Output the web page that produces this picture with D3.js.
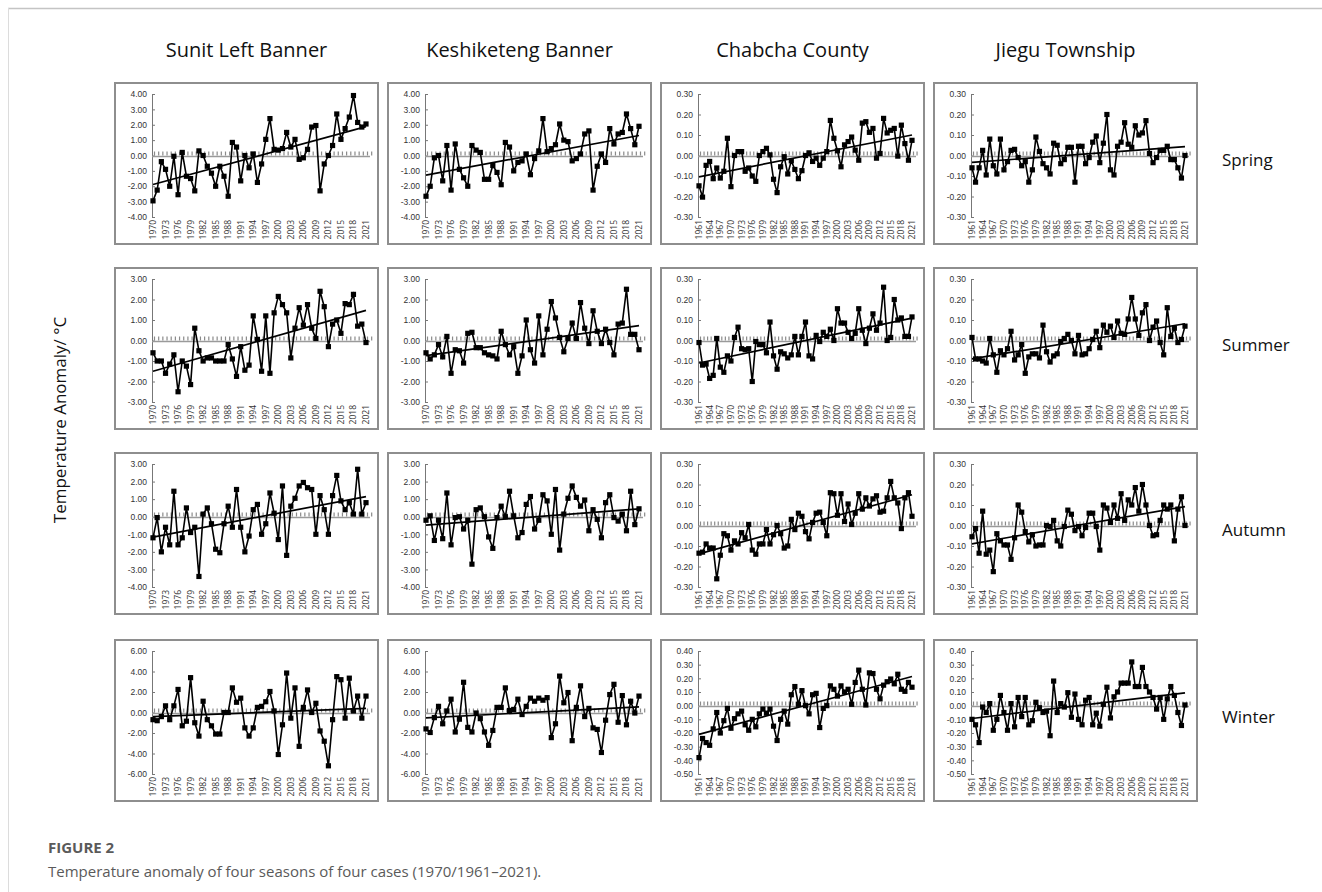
<!DOCTYPE html>
<html>
<head>
<meta charset="utf-8">
<script src="https://cdn.jsdelivr.net/npm/d3@7"></script>
<style>
  body { margin: 0; background: #fff; }
  svg text { font-family: "Open Sans", sans-serif; }
  .tick text { font-family: "Liberation Sans", Arial, sans-serif; }
</style>
</head>
<body>
<div id="chart"></div>
<script>
// Cases (columns) and seasons (rows)
const counties = ["Sunit Left Banner", "Keshiketeng Banner", "Chabcha County", "Jiegu Township"];
const seasons = ["Spring", "Summer", "Autumn", "Winter"];
const firstYears = [1970, 1970, 1961, 1961];
const lastYear = 2021;

// Temperature anomaly
const sunitSpring = [-2.95,-2.25,-0.4,-0.9,-2.0,-0.05,-2.55,0.2,-1.35,-1.5,-2.3,0.3,0.0,-0.7,-1.15,-2.0,-0.7,-1.35,-2.65,0.85,0.55,-1.65,0.0,-0.8,0.1,-1.75,-0.55,1.05,2.4,0.4,0.35,0.45,1.5,0.55,1.05,-0.25,-0.15,0.4,1.85,1.95,-2.3,-0.55,0.0,0.65,2.7,1.05,1.75,2.5,3.9,2.15,1.85,2.05];
const keshiSpring = [-2.65,-2.0,-0.15,0.0,-1.65,0.65,-2.25,0.75,-0.9,-1.45,-2.0,0.65,0.35,0.2,-1.55,-1.55,-0.65,-1.1,-1.9,0.85,0.55,-1.0,-0.45,-0.35,0.1,-1.25,-0.2,0.3,2.4,0.25,0.45,0.7,2.05,1.0,0.9,-0.35,-0.2,0.1,1.4,1.6,-2.25,-0.7,0.1,-0.45,1.75,0.75,1.4,1.5,2.7,1.75,0.7,1.9];
const chabchaSpring = [-0.148,-0.203,-0.048,-0.029,-0.113,-0.061,-0.11,-0.077,0.084,-0.152,0.0,0.019,0.019,-0.077,-0.061,-0.10,-0.126,0.0,0.019,0.035,0.003,-0.116,-0.181,-0.055,-0.006,-0.09,-0.026,-0.068,-0.113,-0.074,0.0,0.013,-0.029,-0.013,-0.048,-0.013,0.019,0.171,0.084,0.023,-0.055,0.052,0.068,0.09,0.026,-0.023,0.158,0.165,0.113,0.132,-0.013,0.01,0.181,0.11,0.123,0.132,-0.003,0.148,0.058,-0.023,0.074];
const jieguSpring = [-0.06,-0.13,-0.06,0.025,-0.095,0.08,-0.05,-0.09,0.08,-0.07,-0.03,0.025,0.03,-0.01,-0.05,-0.03,-0.13,-0.07,0.09,0.02,-0.04,-0.06,-0.09,0.06,0.05,-0.04,-0.02,0.04,0.04,-0.13,0.045,0.045,-0.04,-0.01,0.065,0.095,-0.035,0.06,0.20,-0.07,-0.095,0.045,0.065,0.16,0.055,0.04,0.145,0.10,0.11,0.17,0.01,-0.035,-0.01,0.025,0.025,0.045,-0.02,-0.02,-0.06,-0.11,0.00];

const sunitSummer = [-0.6,-1.0,-1.0,-1.6,-1.15,-0.7,-2.5,-1.0,-1.25,-2.15,0.6,-0.5,-1.0,-0.85,-0.85,-1.0,-1.0,-1.0,-0.2,-0.9,-1.75,-0.3,-1.45,-1.2,1.2,0.05,-1.5,1.2,-1.6,1.35,2.15,1.75,1.35,-0.85,0.6,1.6,0.75,1.75,0.6,0.1,2.4,1.65,-0.3,0.8,1.0,0.35,1.8,1.75,2.25,0.7,0.8,-0.1];
const keshiSummer = [-0.6,-0.9,-0.7,-0.2,-0.8,0.2,-1.6,-0.45,-0.5,-1.1,0.35,0.4,-0.35,-0.35,-0.6,-0.7,-0.75,-0.9,0.45,-0.2,-0.7,-0.3,-1.6,-0.75,1.0,-0.45,-1.1,1.2,-0.7,0.55,1.9,1.1,0.15,-0.55,0.1,0.85,0.1,1.85,0.6,-0.15,1.45,0.45,-0.15,0.55,-0.1,-0.7,0.8,0.85,2.5,0.3,0.3,-0.45];
const chabchaSummer = [-0.01,-0.12,-0.115,-0.185,-0.17,0.01,-0.13,-0.155,-0.075,-0.10,0.015,0.065,-0.04,-0.045,-0.04,-0.20,-0.005,-0.02,-0.02,-0.06,0.09,-0.075,-0.14,-0.055,-0.065,-0.085,-0.07,0.02,-0.07,0.02,0.09,-0.075,-0.09,0.025,-0.005,0.04,0.02,0.055,0.0,0.155,0.085,0.085,0.04,0.01,0.035,0.155,0.05,-0.015,0.06,0.13,0.05,0.085,0.26,0.0,0.015,0.20,0.10,0.11,0.02,0.02,0.115];
const jieguSummer = [0.015,-0.09,-0.09,-0.10,-0.11,0.01,-0.07,-0.155,-0.05,-0.07,-0.04,0.045,-0.095,-0.07,-0.02,-0.16,-0.08,-0.065,-0.065,-0.085,0.075,-0.055,-0.105,-0.075,-0.065,-0.005,0.01,0.03,0.0,-0.065,0.025,-0.07,-0.065,-0.04,0.005,0.045,-0.035,0.075,0.04,0.07,0.015,0.095,0.035,0.03,0.105,0.21,0.105,0.025,0.135,0.175,0.0,0.065,0.095,-0.01,-0.07,0.16,0.02,0.06,-0.01,0.005,0.07];

const sunitAutumn = [-1.2,-0.05,-2.0,-0.6,-1.6,1.45,-1.6,-1.2,0.5,-0.9,-0.6,-3.4,0.15,0.5,-0.4,-1.85,-2.05,-0.4,0.6,-0.6,1.55,-0.6,-2.0,-1.1,0.4,0.7,-1.0,-0.4,1.35,0.2,-1.3,1.75,-2.2,0.6,1.05,1.75,1.95,1.65,1.55,-1.0,1.2,0.4,-1.0,1.2,2.35,0.9,0.4,0.8,0.15,2.7,0.15,0.8];
const keshiAutumn = [-0.2,0.05,-1.35,-0.2,-1.25,1.35,-1.6,-0.05,0.0,-0.7,-0.2,-2.7,0.4,0.5,0.0,-1.15,-1.8,-0.05,0.6,0.0,1.45,0.05,-1.2,-0.9,0.7,1.15,-0.7,-0.2,1.25,0.9,-1.0,1.55,-1.9,0.15,1.05,1.75,1.1,0.6,0.95,-0.8,0.4,-0.15,-1.2,0.8,1.25,-0.05,-0.25,0.15,-0.8,1.45,-0.45,0.45];
const chabchaAutumn = [-0.135,-0.13,-0.09,-0.11,-0.11,-0.26,-0.145,-0.04,-0.05,-0.12,-0.075,-0.09,-0.035,-0.06,0.005,-0.12,-0.14,-0.09,-0.09,-0.02,-0.09,-0.045,0.0,-0.04,-0.11,-0.10,0.03,-0.02,0.06,0.045,-0.03,-0.065,0.015,0.06,0.065,0.015,-0.05,0.16,0.155,0.05,0.155,0.02,0.105,0.005,0.06,0.155,0.08,0.135,0.095,0.13,0.145,0.065,0.07,0.135,0.215,0.135,0.11,-0.015,0.135,0.16,0.045];
const jieguAutumn = [-0.055,-0.015,-0.135,0.07,-0.14,-0.12,-0.225,-0.04,-0.075,-0.095,-0.095,-0.165,-0.06,0.10,0.065,-0.03,-0.08,-0.045,-0.10,-0.095,-0.095,0.0,-0.005,0.025,-0.075,-0.10,-0.005,0.075,0.055,-0.025,-0.005,-0.05,-0.01,0.06,0.06,-0.005,-0.12,0.10,0.085,0.015,0.10,0.035,0.155,0.025,0.125,0.10,0.185,0.07,0.20,0.10,0.0,-0.05,-0.045,0.025,0.10,0.08,0.10,-0.075,0.08,0.14,0.0];

const sunitWinter = [-0.7,-0.8,-0.4,0.65,-0.7,0.65,2.25,-1.3,-0.85,3.4,-1.0,-2.3,1.1,-0.7,-1.3,-2.1,-2.1,0.0,0.0,2.4,1.0,1.4,-1.5,-2.3,-1.5,0.5,0.6,1.05,2.05,0.15,-4.1,-1.2,3.85,-0.55,2.4,-3.3,0.5,2.2,0.0,0.9,-1.8,-2.8,-5.2,-0.7,3.5,3.2,-0.55,3.35,0.15,1.6,-0.55,1.6];
const keshiWinter = [-1.6,-1.95,-0.5,0.6,-1.1,0.15,1.3,-1.9,-0.65,2.95,-1.45,-1.9,-0.05,-0.6,-1.9,-3.2,-1.75,0.5,0.5,2.4,0.2,0.3,1.3,-0.2,0.6,1.4,1.1,1.4,1.2,1.45,-2.45,-1.1,3.55,0.95,1.95,-2.75,0.5,2.6,-0.4,0.4,-1.5,-1.65,-3.9,-0.75,1.75,2.75,-0.95,1.65,-1.2,1.1,-0.05,1.6];
const chabchaWinter = [-0.38,-0.24,-0.27,-0.29,-0.17,-0.05,-0.20,-0.11,-0.02,-0.165,-0.095,-0.06,-0.04,-0.14,-0.18,-0.10,-0.155,-0.06,-0.025,-0.055,-0.025,-0.15,-0.255,-0.10,-0.04,-0.135,0.08,0.14,0.01,0.11,0.0,-0.06,0.08,0.09,-0.16,-0.02,0.0,0.145,0.12,0.07,0.145,0.10,0.12,0.01,0.17,0.26,0.12,0.005,0.24,0.235,0.12,0.05,0.15,0.175,0.195,0.16,0.23,0.12,0.105,0.17,0.135];
const jieguWinter = [-0.10,-0.14,-0.27,-0.01,-0.05,0.015,-0.18,-0.10,0.075,-0.05,-0.18,0.015,-0.155,0.06,-0.08,0.06,-0.14,-0.11,0.025,-0.015,-0.05,-0.04,-0.22,0.18,-0.05,0.015,-0.01,0.095,-0.085,0.085,-0.10,-0.14,0.04,0.06,-0.14,-0.055,-0.15,0.01,0.135,-0.09,0.065,0.10,0.165,0.165,0.165,0.32,0.14,0.14,0.28,0.14,0.10,0.06,-0.025,0.06,-0.10,0.05,0.14,0.075,-0.05,-0.145,0.005];

// y axis ranges: [min, max, step] per season, for the two 1970 cases and the two 1961 cases
const yRangesWide = [[-4, 4, 1], [-3, 3, 1], [-4, 3, 1], [-6, 6, 2]];
const yRangesNarrow = [[-0.3, 0.3, 0.1], [-0.3, 0.3, 0.1], [-0.3, 0.3, 0.1], [-0.5, 0.4, 0.1]];

const grid = [
  [sunitSpring, keshiSpring, chabchaSpring, jieguSpring],
  [sunitSummer, keshiSummer, chabchaSummer, jieguSummer],
  [sunitAutumn, keshiAutumn, chabchaAutumn, jieguAutumn],
  [sunitWinter, keshiWinter, chabchaWinter, jieguWinter]
];

// Layout
const width = 1322, height = 892;
const colX = [115, 388, 661, 934];
const rowY = [83, 268, 453, 640];
const panelW = 263, panelH = 161;

const fmt = d3.formatLocale({decimal: ".", thousands: ",", grouping: [3], currency: ["", ""], minus: "-"}).format(".2f");

const svg = d3.select("#chart").append("svg")
  .attr("width", width)
  .attr("height", height);

// page frame lines
svg.append("line").attr("x1", 8).attr("x2", width).attr("y1", 8.5).attr("y2", 8.5)
  .attr("stroke", "#c4c4c4").attr("stroke-width", 1.5);
svg.append("line").attr("x1", 8.5).attr("x2", 8.5).attr("y1", 8).attr("y2", height)
  .attr("stroke", "#dcdcdc").attr("stroke-width", 1);

// column titles
svg.selectAll(".col-title")
  .data(counties)
  .enter()
  .append("text")
  .attr("class", "col-title")
  .attr("x", (d, i) => colX[i] + panelW / 2)
  .attr("y", 57)
  .attr("text-anchor", "middle")
  .attr("font-size", 20)
  .attr("fill", "#111")
  .text(d => d);

// season labels
svg.selectAll(".season")
  .data(seasons)
  .enter()
  .append("text")
  .attr("class", "season")
  .attr("x", 1222)
  .attr("y", (d, i) => rowY[i] + panelH / 2 - 3)
  .attr("dy", "0.35em")
  .attr("font-size", 17)
  .attr("fill", "#111")
  .text(d => d);

// shared y label
svg.append("text")
  .attr("transform", "translate(66, 420) rotate(-90)")
  .attr("text-anchor", "middle")
  .attr("font-size", 17)
  .attr("fill", "#111")
  .text("Temperature Anomaly/ °C");

// least squares trend
const trend = (xs, ys) => {
  const mx = d3.mean(xs), my = d3.mean(ys);
  const b = d3.sum(xs, (x, i) => (x - mx) * (ys[i] - my)) / d3.sum(xs, x => (x - mx) ** 2);
  return x => my + b * (x - mx);
};

const drawPanel = (r, c) => {
  const values = grid[r][c];
  const years = d3.range(firstYears[c], lastYear + 1);
  const [lo, hi, step] = c < 2 ? yRangesWide[r] : yRangesNarrow[r];
  const x0 = colX[c], y0 = rowY[r];
  const axisX = x0 + 37;
  const plotTop = y0 + 11;
  const plotBottom = y0 + panelH - 27;

  const g = svg.append("g");

  g.append("rect")
    .attr("x", x0).attr("y", y0)
    .attr("width", panelW).attr("height", panelH)
    .attr("fill", "#fff")
    .attr("stroke", "#8e8e8e")
    .attr("stroke-width", 2);

  const xScale = d3.scaleLinear()
    .domain([years[0], lastYear])
    .range([axisX + 1, x0 + panelW - 12]);

  const yScale = d3.scaleLinear()
    .domain([lo, hi])
    .range([plotBottom, plotTop]);

  const yTicks = d3.range(lo, hi + step / 2, step).map(v => Math.round(v * 100) / 100 + 0);

  const yAxis = d3.axisLeft(yScale)
    .tickValues(yTicks)
    .tickFormat(fmt)
    .tickSizeInner(-3)
    .tickSizeOuter(0)
    .tickPadding(5);

  const ya = g.append("g")
    .attr("transform", `translate(${axisX},0)`)
    .call(yAxis);
  ya.select(".domain").attr("stroke", "#777").attr("stroke-width", 1);
  ya.selectAll(".tick line").attr("stroke", "#777");
  ya.selectAll(".tick text").attr("font-size", 8.5).attr("fill", "#333");

  // zero line with year ticks
  const zy = Math.round(yScale(0)) + 0.5;
  g.append("line")
    .attr("x1", axisX).attr("x2", x0 + panelW - 8)
    .attr("y1", zy).attr("y2", zy)
    .attr("stroke", "#9a9a9a")
    .attr("stroke-width", 1.6);
  g.selectAll(".ztick")
    .data(years.concat([lastYear + 1]))
    .enter()
    .append("line")
    .attr("class", "ztick")
    .attr("x1", d => xScale(d) + 1.5)
    .attr("x2", d => xScale(d) + 1.5)
    .attr("y1", zy - 1)
    .attr("y2", zy - 5)
    .attr("stroke", "#8a8a8a")
    .attr("stroke-width", 1.2);

  // x labels every third year
  const xTicks = years.filter((d, i) => i % 3 === 0);
  g.selectAll(".xlab")
    .data(xTicks)
    .enter()
    .append("text")
    .attr("class", "xlab")
    .attr("transform", d => `translate(${xScale(d)},${plotBottom + 3}) rotate(-90)`)
    .attr("text-anchor", "end")
    .attr("dy", "0.35em")
    .attr("font-family", "Liberation Sans, Arial, sans-serif")
    .attr("font-size", 8.5)
    .attr("fill", "#333")
    .text(d => d);

  // trend line
  const f = trend(years, values);
  g.append("line")
    .attr("x1", xScale(years[0])).attr("y1", yScale(f(years[0])))
    .attr("x2", xScale(lastYear)).attr("y2", yScale(f(lastYear)))
    .attr("stroke", "#000")
    .attr("stroke-width", 1.7);

  // series
  const line = d3.line()
    .x((d, i) => xScale(years[i]))
    .y(d => yScale(d));
  g.append("path")
    .datum(values)
    .attr("d", line)
    .attr("fill", "none")
    .attr("stroke", "#000")
    .attr("stroke-width", 1.6)
    .attr("stroke-linejoin", "miter");

  g.selectAll(".pt")
    .data(values)
    .enter()
    .append("rect")
    .attr("class", "pt")
    .attr("x", (d, i) => xScale(years[i]) - 2.6)
    .attr("y", d => yScale(d) - 2.6)
    .attr("width", 5.2)
    .attr("height", 5.2)
    .attr("fill", "#000");
};

seasons.forEach((s, r) => counties.forEach((cn, c) => drawPanel(r, c)));

// caption
svg.append("text")
  .attr("x", 48).attr("y", 853)
  .attr("font-size", 15)
  .attr("font-weight", "bold")
  .attr("fill", "#5a5a5a")
  .text("FIGURE 2");
svg.append("text")
  .attr("x", 48).attr("y", 877)
  .attr("font-size", 15)
  .attr("fill", "#5a5a5a")
  .text("Temperature anomaly of four seasons of four cases (1970/1961\u20132021).");
</script>
</body>
</html>
